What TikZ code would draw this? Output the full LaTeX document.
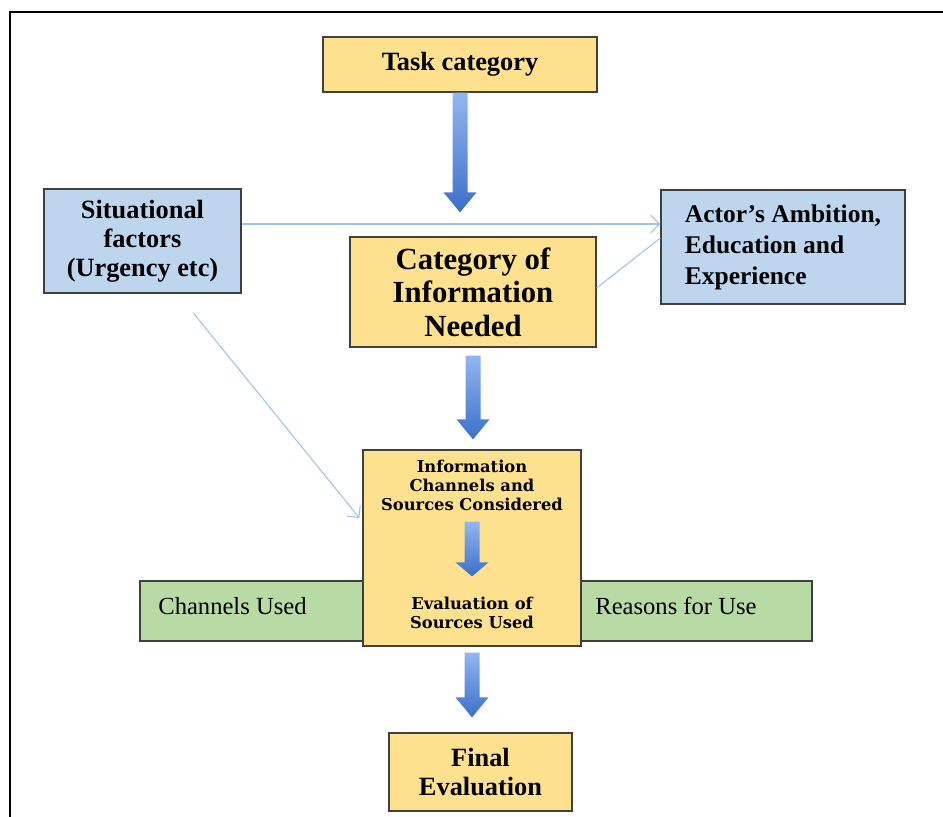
\documentclass[tikz,border=0pt]{standalone}
\usepackage{fontspec}
\setmainfont{Liberation Serif}
\newfontfamily\widefont{DejaVu Serif}
\usetikzlibrary{calc,arrows.meta,shadows}

\definecolor{boxyellow}{RGB}{254,225,142}
\definecolor{boxblue}{RGB}{189,214,238}
\definecolor{boxgreen}{RGB}{184,218,165}
\definecolor{linkblue}{RGB}{157,195,230}
\definecolor{arrowtop}{RGB}{146,183,242}
\definecolor{arrowbottom}{RGB}{58,111,201}

% from, to, gap below from, gap above to, head length
\newcommand{\fatarrow}[5]{%
  \shade[fatarrow] ($(#1.south)+(-7.5,#3)$)
    -- ($(#1.south |- #2.north)+(-7.5,-#4-#5)$) -- ++(-9,0)
    -- ($(#1.south |- #2.north)+(0,-#4)$)
    -- ($(#1.south |- #2.north)+(16.5,-#4-#5)$) -- ++(-9,0)
    -- ($(#1.south)+(7.5,#3)$) -- cycle;}

\begin{document}
\begin{tikzpicture}[x=0.02cm,y=-0.02cm,
    every node/.style={inner sep=0pt},
    box/.style={draw=black!75,line width=0.7pt,
      drop shadow={shadow xshift=0.7pt,shadow yshift=-0.7pt,opacity=0.3}},
    yellowbox/.style={box,fill=boxyellow},
    bluebox/.style={box,fill=boxblue},
    thinline/.style={draw=linkblue,line width=0.6pt},
    fatarrow/.style={top color=arrowtop,bottom color=arrowbottom,draw=none}]
  \useasboundingbox (0,0) rectangle (943,817);
  \draw[line width=1.2pt] (10,817) |- (943,12);

  \node[yellowbox,minimum width=5.48cm,minimum height=1.10cm,
    font=\bfseries\fontsize{15}{17}\selectfont] (task) at (460,64.5) {Task category};
  \node[bluebox,minimum width=3.94cm,minimum height=2.08cm,align=center,
    font=\bfseries\fontsize{15}{16.5}\selectfont] (sit) at (142.5,241)
    {Situational\\factors\\(Urgency etc)};
  \node[bluebox,minimum width=4.88cm,minimum height=2.28cm,align=left,
    font=\bfseries\fontsize{14.5}{17.6}\selectfont] (actor) at (783,247)
    {Actor’s Ambition,\\Education and\\Experience};
  \node[yellowbox,minimum width=4.92cm,minimum height=2.2cm,align=center,
    font=\bfseries\fontsize{17.5}{19}\selectfont] (need) at (473,292)
    {Category of\\Information\\Needed};

  \node[draw=black!75,line width=0.7pt,fill=boxgreen,minimum width=13.44cm,
    minimum height=1.2cm] (usedbar) at (476,611) {};
  \node[anchor=west,font=\fontsize{14}{16}\selectfont] (chanused) at (158,606) {Channels Used};
  \node[anchor=west,font=\fontsize{14}{16}\selectfont] (reasons) at (595,606) {Reasons for Use};

  \node[yellowbox,minimum width=4.36cm,minimum height=3.92cm] (info) at (472,548) {};
  \node[align=center,font=\widefont\bfseries\fontsize{9.3}{10.8}\selectfont]
    (considered) at (472,485) {Information\\Channels and\\Sources Considered};
  \node[align=center,font=\widefont\bfseries\fontsize{9.3}{10.8}\selectfont]
    (evaluated) at (472,612.5) {Evaluation of\\Sources Used};

  \node[yellowbox,minimum width=3.66cm,minimum height=1.56cm,align=center,
    font=\bfseries\fontsize{15}{16.5}\selectfont] (final) at (480.5,772)
    {Final\\Evaluation};

  \fatarrow{task}{need}{0}{24}{20}
  \fatarrow{need}{info}{8}{10}{20}
  \fatarrow{info}{final}{6}{15}{20}
  \fatarrow{considered}{evaluated}{11}{20}{14}

  \draw[thinline,-{Straight Barb[length=5pt,width=10pt]}]
    ($(sit.east)+(0,-17)$) -- ($(actor.west)+(0,-23)$);
  \draw[thinline] ($(need.east)+(0,-4)$) -- ($(actor.west)+(0,-9)$);
  \draw[thinline,-{Straight Barb[length=5pt,width=10pt]}]
    ($(sit.south)+(50.5,19)$) -- ($(info.west)+(-3,-30)$);
\end{tikzpicture}
\end{document}
